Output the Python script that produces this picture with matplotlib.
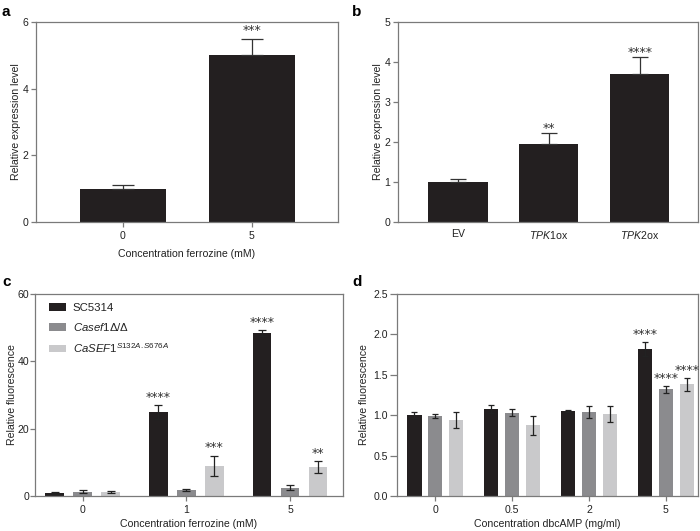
import matplotlib
matplotlib.use("Agg")
import matplotlib.pyplot as plt
import numpy as np

plt.rcParams['font.family'] = ['Liberation Sans', 'DejaVu Sans']
plt.rcParams['mathtext.fontset'] = 'custom'
plt.rcParams['mathtext.rm'] = 'Liberation Sans'
plt.rcParams['mathtext.it'] = 'Liberation Sans:italic'
plt.rcParams['mathtext.bf'] = 'Liberation Sans:bold'

# ---------------- data ----------------
# panel a
a_cats = ['0', '5']
a_vals = [1.0, 5.0]
a_err = [0.1, 0.5]
a_stars = ['', '***']

# panel b
b_cats = ['EV', r'$\mathit{TPK1}$ox', r'$\mathit{TPK2}$ox']
b_vals = [1.0, 1.95, 3.7]
b_err = [0.08, 0.27, 0.42]
b_stars = ['', '**', '****']

# panel c
c_cats = ['0', '1', '5']
c_series = ['SC5314', r'$\mathit{Casef1}\mathit{\Delta}/\mathit{\Delta}$',
            r'$\mathit{CaSEF1}^{\mathit{S132A.S676A}}$']
c_sc5314 = [0.9, 25.0, 48.3]
c_sc5314_err = [0.2, 2.0, 0.9]
c_casef1 = [1.3, 1.7, 2.5]
c_casef1_err = [0.4, 0.3, 0.7]
c_mut = [1.2, 9.0, 8.5]
c_mut_err = [0.3, 3.0, 1.8]
c_stars = [['', '****', '****'], ['', '', ''], ['', '***', '**']]

# panel d
d_cats = ['0', '0.5', '2', '5']
d_sc5314 = [1.0, 1.08, 1.055, 1.82]
d_sc5314_err = [0.035, 0.05, 0.015, 0.085]
d_casef1 = [0.985, 1.03, 1.04, 1.32]
d_casef1_err = [0.025, 0.045, 0.075, 0.04]
d_mut = [0.94, 0.875, 1.02, 1.38]
d_mut_err = [0.10, 0.115, 0.10, 0.08]
d_stars = [['', '', '', '****'], ['', '', '', '****'], ['', '', '', '****']]

colors = ['#231f20', '#8b8b8e', '#c9c9cb']
spine_col = '#7a7a7a'
txt_col = '#222222'
FS = 7.6
SFS = 9

fig = plt.figure(figsize=(7.0, 5.31), dpi=100)

def style(ax, length=3.5, pad=2):
    for s in ax.spines.values():
        s.set_color(spine_col)
        s.set_linewidth(0.9)
    ax.tick_params(axis='both', direction='out', length=length, width=0.9,
                   color=spine_col, labelsize=FS, labelcolor=txt_col, pad=pad)
    ax.tick_params(axis='x', pad=3, length=3.5)

def star(ax, x, y, s, dy=-1.0):
    ax.annotate(s, (x, y), xytext=(0, dy), textcoords='offset points',
                ha='center', va='bottom', fontsize=SFS, color='#333333',
                family='DejaVu Sans')

# ---- panel a ----
axa = fig.add_axes([36/700, 1-222/531, 302/700, 200/531])
xa = np.arange(len(a_cats))
axa.bar(xa, a_vals, width=0.667, color=colors[0], zorder=2)
axa.errorbar(xa, a_vals, yerr=[np.zeros(len(a_err)), a_err], fmt='none',
             ecolor='#333333', elinewidth=0.9, capsize=8, capthick=0.9, zorder=3)
for x, v, e, s in zip(xa, a_vals, a_err, a_stars):
    if s:
        star(axa, x, v+e, s, dy=1.0)
axa.set_xlim(-0.674, 1.667)
axa.set_ylim(0, 6)
axa.set_yticks([0, 2, 4, 6])
axa.set_xticks(xa)
axa.set_xticklabels(a_cats)
axa.set_ylabel('Relative expression level', fontsize=FS, color=txt_col, labelpad=1)
axa.set_xlabel('Concentration ferrozine (mM)', fontsize=FS, color=txt_col, labelpad=6)
style(axa)
fig.text(2/700, 1-12/531, 'a', fontsize=11, fontweight='bold', va='center')

# ---- panel b ----
axb = fig.add_axes([398/700, 1-222/531, 300/700, 200/531])
xb = np.arange(len(b_cats))
axb.bar(xb, b_vals, width=0.65, color=colors[0], zorder=2)
axb.errorbar(xb, b_vals, yerr=[np.zeros(len(b_err)), b_err], fmt='none',
             ecolor='#333333', elinewidth=0.9, capsize=6, capthick=0.9, zorder=3)
for x, v, e, s in zip(xb, b_vals, b_err, b_stars):
    if s:
        star(axb, x, v+e, s)
axb.set_xlim(-0.66, 2.64)
axb.set_ylim(0, 5)
axb.set_yticks([0, 1, 2, 3, 4, 5])
axb.set_xticks(xb)
axb.set_xticklabels(b_cats)
axb.set_ylabel('Relative expression level', fontsize=FS, color=txt_col, labelpad=1)
style(axb)
axb.tick_params(axis='x', length=0, pad=5)
fig.text(352/700, 1-12/531, 'b', fontsize=11, fontweight='bold', va='center')

# ---- panel c ----
axc = fig.add_axes([35/700, 1-496/531, 308/700, 202/531])
xc = np.arange(len(c_cats))
off = 0.27
w = 0.18
c_vals = [c_sc5314, c_casef1, c_mut]
c_errs = [c_sc5314_err, c_casef1_err, c_mut_err]
for i in range(3):
    pos = xc + (i-1)*off
    axc.bar(pos, c_vals[i], width=w, color=colors[i], label=c_series[i], zorder=2)
    axc.errorbar(pos, c_vals[i], yerr=c_errs[i], fmt='none', ecolor='#222222',
                 elinewidth=0.9, capsize=2.8, capthick=0.9, zorder=3)
    for p, v, e, s in zip(pos, c_vals[i], c_errs[i], c_stars[i]):
        if s:
            star(axc, p, v+e, s, dy=1.0)
axc.set_xlim(-0.46, 2.51)
axc.set_ylim(0, 60)
axc.set_yticks([0, 20, 40, 60])
axc.set_xticks(xc)
axc.set_xticklabels(c_cats)
axc.set_ylabel('Relative fluorescence', fontsize=FS, color=txt_col, labelpad=0.5)
axc.set_xlabel('Concentration ferrozine (mM)', fontsize=FS, color=txt_col, labelpad=3)
style(axc, length=3.5, pad=0.8)
leg = axc.legend(loc='upper left', frameon=False, fontsize=FS+0.6,
                 handlelength=1.5, handleheight=0.6, handletextpad=0.6,
                 labelspacing=0.7, borderaxespad=0.4, bbox_to_anchor=(0.015, 1.0))
for t in leg.get_texts():
    t.set_color(txt_col)
fig.text(2/700, 1-282/531, 'c', fontsize=11, fontweight='bold', va='center')

# ---- panel d ----
axd = fig.add_axes([397/700, 1-496/531, 301/700, 202/531])
xd = np.arange(len(d_cats))
wd = 0.185
d_vals = [d_sc5314, d_casef1, d_mut]
d_errs = [d_sc5314_err, d_casef1_err, d_mut_err]
for i in range(3):
    pos = xd + (i-1)*0.273
    axd.bar(pos, d_vals[i], width=wd, color=colors[i], zorder=2)
    axd.errorbar(pos, d_vals[i], yerr=d_errs[i], fmt='none', ecolor='#222222',
                 elinewidth=0.9, capsize=2.2, capthick=0.9, zorder=3)
    for p, v, e, s in zip(pos, d_vals[i], d_errs[i], d_stars[i]):
        if s:
            star(axd, p, v+e, s, dy=0.5)
axd.set_xlim(-0.50, 3.42)
axd.set_ylim(0, 2.5)
axd.set_yticks([0, 0.5, 1.0, 1.5, 2.0, 2.5])
axd.set_yticklabels(['0.0', '0.5', '1.0', '1.5', '2.0', '2.5'])
axd.set_xticks(xd)
axd.set_xticklabels(d_cats)
axd.set_ylabel('Relative fluorescence', fontsize=FS, color=txt_col, labelpad=3)
axd.set_xlabel('Concentration dbcAMP (mg/ml)', fontsize=FS, color=txt_col, labelpad=3)
style(axd, length=5, pad=1.5)
fig.text(352/700, 1-282/531, 'd', fontsize=11, fontweight='bold', va='center')

fig.savefig('out.png', dpi=100)
